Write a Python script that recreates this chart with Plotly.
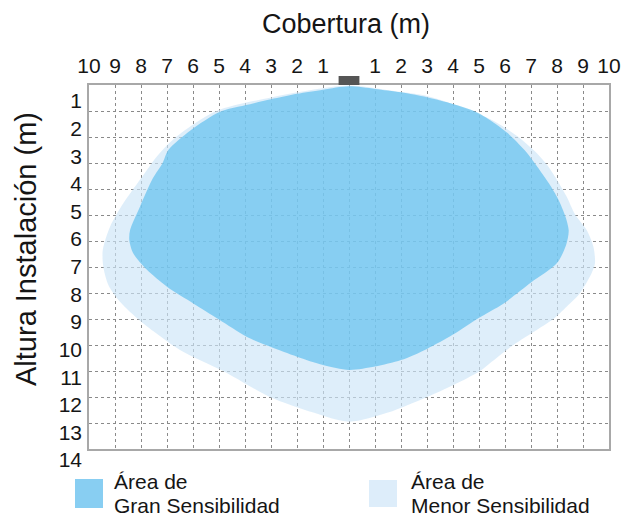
import plotly.graph_objects as go

# ---------------- data ----------------
X_TICKS = list(range(-10, 11))
X_LABELS = ["10", "9", "8", "7", "6", "5", "4", "3", "2", "1", "",
            "1", "2", "3", "4", "5", "6", "7", "8", "9", "10"]
GRID_Y = list(range(1, 14))
Y_TICKS = list(range(1, 15))
Y_LABELS = [str(v) for v in Y_TICKS]

# Área de Gran Sensibilidad (outline, metres: cobertura, altura)
HIGH_X = [0, 1, 2, 3, 4, 4.85, 5.5, 6.1, 6.75, 7.25, 7.7, 8.05, 8.32, 8.45, 8.35, 8.0,
          7.0, 5.95, 4.97, 4.0, 3.0, 2.0, 1.0, 0, -1.0, -2.0, -3.04, -3.94, -5.0, -5.99,
          -7.0, -7.78, -8.3, -8.45, -8.42, -8.04, -7.55, -7.17, -6.95, -6.1, -4.96, -4.0,
          -3.0, -2.0, -1.0, 0]
HIGH_Y = [0.05, 0.15, 0.28, 0.47, 0.73, 1.02, 1.4, 1.85, 2.5, 3.15, 3.8, 4.4, 5.05, 5.6, 6.15, 6.85,
          7.6, 8.4, 8.97, 9.6, 10.15, 10.58, 10.83, 10.96, 10.77, 10.45, 10.06, 9.68, 9.02, 8.4,
          7.76, 7.1, 6.47, 5.96, 5.58, 4.68, 3.6, 3.0, 2.5, 1.75, 1.03, 0.78,
          0.55, 0.34, 0.18, 0.05]

# Área de Menor Sensibilidad
LOW_X = [0, 1.5, 3, 4.6, 5.6, 6.45, 7.15, 7.6, 8.0, 8.37, 8.69, 9.14, 9.4, 9.46, 9.33, 8.88,
         8.37, 7.86, 7.22, 6.32, 5.42, 5.04, 4.0, 3.0, 1.5, 0, -1.37, -3.04, -4.84, -6.5,
         -8.0, -8.8, -9.25, -9.45, -9.47, -9.19, -8.68, -7.9, -7.35, -6.65, -5.1, -3.0,
         -1.5, 0]
LOW_Y = [0.02, 0.2, 0.42, 0.95, 1.4, 1.95, 2.55, 3.05, 3.65, 4.29, 4.97, 5.58, 6.22, 6.86, 7.24, 8.01,
         8.53, 9.0, 9.42, 10.0, 10.7, 11.0, 11.55, 12.0, 12.6, 12.95, 12.6, 12.0, 11.0, 10.19,
         9.1, 8.35, 7.7, 6.99, 6.35, 5.45, 4.55, 3.45, 2.7, 2.0, 1.0, 0.48,
         0.2, 0.02]

LEGEND_LINES = [("Área de", "Gran Sensibilidad"), ("Área de", "Menor Sensibilidad")]
X_TITLE = "Cobertura (m)"
Y_TITLE = "Altura Instalación (m)"

# ---------------- layout geometry (pixels) ----------------
W, H = 632, 520
L, R, T, B = 89, 23, 85, 50          # paper area: x 89..609, y 85..470
PW, PH = W - L - R, H - T - B
PLOT_BOTTOM = 449                    # bottom edge of the grid box


def px_x(p):
    return (p - L) / PW


def px_y(p):
    return (H - B - p) / PH


FONT = "Liberation Sans, Arial, Helvetica, sans-serif"
HIGH_COLOR = "rgba(88,189,238,0.65)"
LOW_COLOR = "rgba(204,229,247,0.65)"
HIGH_SWATCH = "#88CEF2"
LOW_SWATCH = "#DDEDFA"
GRID = "#8a8a8a"
BOX = "#a8a8a8"
TXT = "#151515"
LEG_FS = 21

fig = go.Figure()
fig.add_trace(go.Scatter(x=LOW_X, y=LOW_Y, mode="lines", fill="toself", fillcolor=LOW_COLOR,
                         line=dict(width=0, shape="spline", smoothing=0.8),
                         name="Área de Menor Sensibilidad", hoverinfo="skip", showlegend=False))
fig.add_trace(go.Scatter(x=HIGH_X, y=HIGH_Y, mode="lines", fill="toself", fillcolor=HIGH_COLOR,
                         line=dict(width=0, shape="spline", smoothing=0.8),
                         name="Área de Gran Sensibilidad", hoverinfo="skip", showlegend=False))
# invisible carrier for the height-label axis
fig.add_trace(go.Scatter(x=[0] * len(Y_TICKS), y=Y_TICKS, xaxis="x2", yaxis="y2", mode="markers",
                         marker=dict(opacity=0, size=1), hoverinfo="skip", showlegend=False))

lab_top, lab_bot = 101, 460          # pixel centres of labels "1" and "14"
step = (lab_bot - lab_top) / (Y_TICKS[-1] - Y_TICKS[0])
y2_top = Y_TICKS[0] - (lab_top - T) / step
y2_bot = Y_TICKS[0] + (H - B - lab_top) / step

fig.update_layout(
    width=W, height=H, margin=dict(l=L, r=R, t=T, b=B, pad=0),
    paper_bgcolor="white", plot_bgcolor="rgba(0,0,0,0)",
    font=dict(family=FONT, color=TXT),
    showlegend=False,
    title=dict(text=X_TITLE, font=dict(size=27, family=FONT, color=TXT),
               x=346 / W, xref="container", xanchor="center",
               y=1 - 24 / H, yref="container", yanchor="middle"),
    xaxis=dict(range=[-10, 10], side="top", anchor="y", tickvals=X_TICKS, ticktext=X_LABELS,
               tickfont=dict(size=21), ticks="", ticklabelstandoff=2,
               showgrid=True, gridcolor=GRID, griddash="dot", gridwidth=1,
               showline=True, mirror=True, linecolor=BOX, linewidth=1.5, zeroline=False,
               fixedrange=True),
    yaxis=dict(range=[14, 0], domain=[px_y(PLOT_BOTTOM), 1], anchor="x", tickvals=GRID_Y,
               showticklabels=False, ticks="",
               showgrid=True, gridcolor=GRID, griddash="dot", gridwidth=1,
               showline=True, mirror=True, linecolor=BOX, linewidth=1.5, zeroline=False,
               fixedrange=True),
    xaxis2=dict(domain=[0, 1], anchor="y2", range=[-1, 1], visible=False, showgrid=False,
                zeroline=False, fixedrange=True),
    yaxis2=dict(range=[y2_bot, y2_top], domain=[0, 1], anchor="x2", tickvals=Y_TICKS,
                ticktext=Y_LABELS, tickfont=dict(size=21), ticks="", ticklabelstandoff=6,
                showgrid=False, showline=False, zeroline=False, fixedrange=True),
)

# sensor at the origin
fig.add_shape(type="rect", xref="x", yref="paper", x0=-0.4, x1=0.4, y0=1, y1=px_y(76),
              fillcolor="#555555", line=dict(width=0), layer="above")

# y title
fig.add_annotation(text=Y_TITLE, textangle=-90, xref="paper", yref="paper",
                   x=px_x(26), y=px_y(249), xanchor="center", yanchor="middle",
                   showarrow=False, font=dict(size=29, family=FONT, color=TXT))

# legend (swatches + two-line labels)
legend_items = [
    dict(sw=(75, 103, 479, 508), tx=113, color=HIGH_SWATCH, lines=LEGEND_LINES[0]),
    dict(sw=(369, 397, 480, 507), tx=410, color=LOW_SWATCH, lines=LEGEND_LINES[1]),
]
for it in legend_items:
    x0, x1, y0, y1 = it["sw"]
    fig.add_shape(type="rect", xref="paper", yref="paper", x0=px_x(x0), x1=px_x(x1),
                  y0=px_y(y1), y1=px_y(y0), fillcolor=it["color"], line=dict(width=0))
    for line_text, base in zip(it["lines"], (490, 514)):
        fig.add_annotation(text=line_text, xref="paper", yref="paper", x=px_x(it["tx"]),
                           y=px_y(base + 0.212 * LEG_FS), xanchor="left", yanchor="bottom",
                           borderpad=0, showarrow=False,
                           font=dict(size=LEG_FS, family=FONT, color=TXT))

fig.write_html("out.html", config={"displayModeBar": False},
               post_script="document.body.style.margin='0';document.body.style.overflow='hidden';")
